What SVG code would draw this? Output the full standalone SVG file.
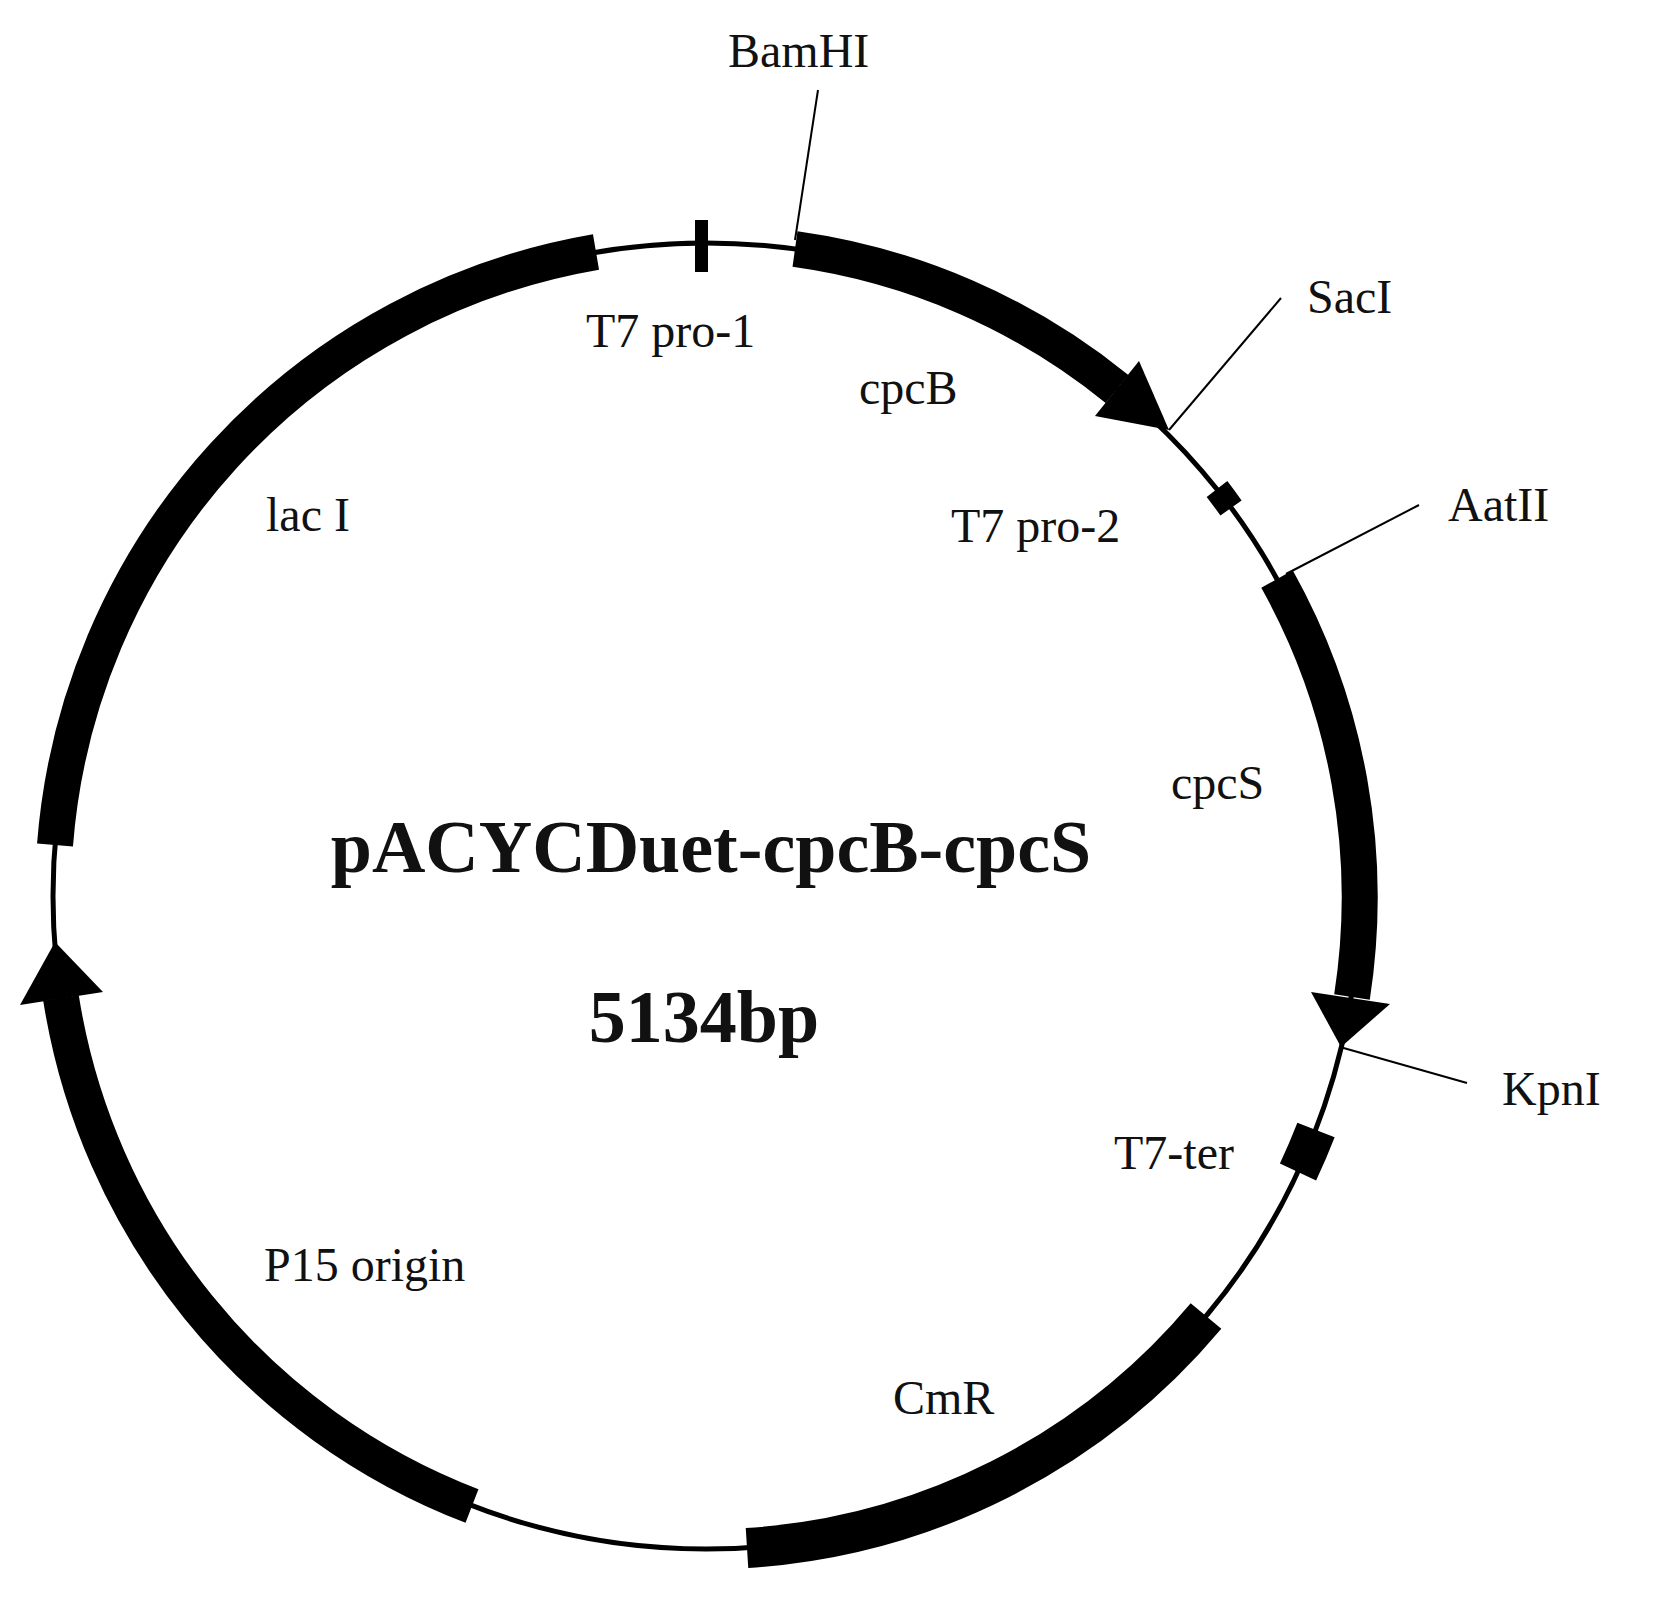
<svg xmlns="http://www.w3.org/2000/svg" width="1658" height="1608" viewBox="0 0 1658 1608">
<style>
.band{fill:none;stroke:#000;stroke-width:36;stroke-linecap:butt}
.lead{stroke:#000;stroke-width:2;fill:none}
text{font-family:"Liberation Serif","Times New Roman",serif;font-size:48px;fill:#111}
.title{font-weight:bold;font-size:74px;text-anchor:middle}
</style>
<rect width="1658" height="1608" fill="#fff"/>
<g id="backbone"><circle cx="706" cy="896" r="653" fill="none" stroke="#000" stroke-width="5"/></g>
<g id="lacI"><path class="band" d="M55 845 A653 653 0 0 1 596 252"/><text x="266" y="531">lac I</text></g>
<g id="T7pro1"><rect x="695" y="220" width="13" height="52" fill="#000"/><text x="586" y="347">T7 pro-1</text></g>
<g id="cpcB"><path class="band" d="M795 249 A653 653 0 0 1 1117 389"/><polygon points="1139,361 1169,430 1095,416"/><text x="859" y="404">cpcB</text></g>
<g id="T7pro2"><path class="band" style="stroke-width:26" d="M1217 489 A653 653 0 0 1 1231 508"/><text x="951" y="542">T7 pro-2</text></g>
<g id="cpcS"><path class="band" d="M1277 579 A653 653 0 0 1 1352 997"/><polygon points="1390,1004 1341,1047 1311,992"/><text x="1171" y="799">cpcS</text></g>
<g id="T7ter"><path class="band" style="stroke-width:40" d="M1316 1130 A653 653 0 0 1 1298 1172"/><text x="1114" y="1169">T7-ter</text></g>
<g id="CmR"><path class="band" style="stroke-width:40" d="M1206 1316 A653 653 0 0 1 747 1548"/><text x="893" y="1414">CmR</text></g>
<g id="P15"><path class="band" d="M472 1506 A653 653 0 0 1 61 998"/><polygon points="20,1005 55,942 103,992"/><text x="264" y="1281">P15 origin</text></g>
<g id="connectors">
<line class="lead" x1="818" y1="90" x2="795" y2="240"/>
<line class="lead" x1="1281" y1="298" x2="1169" y2="430"/>
<line class="lead" x1="1419" y1="505" x2="1286" y2="574"/>
<line class="lead" x1="1467" y1="1083" x2="1340" y2="1047"/>
</g>
<g id="sites">
<text x="728" y="67">BamHI</text>
<text x="1307" y="313">SacI</text>
<text x="1448" y="521">AatII</text>
<text x="1502" y="1105">KpnI</text>
</g>
<g id="center">
<text class="title" x="711" y="872">pACYCDuet-cpcB-cpcS</text>
<text class="title" x="704" y="1042">5134bp</text>
</g>
</svg>
